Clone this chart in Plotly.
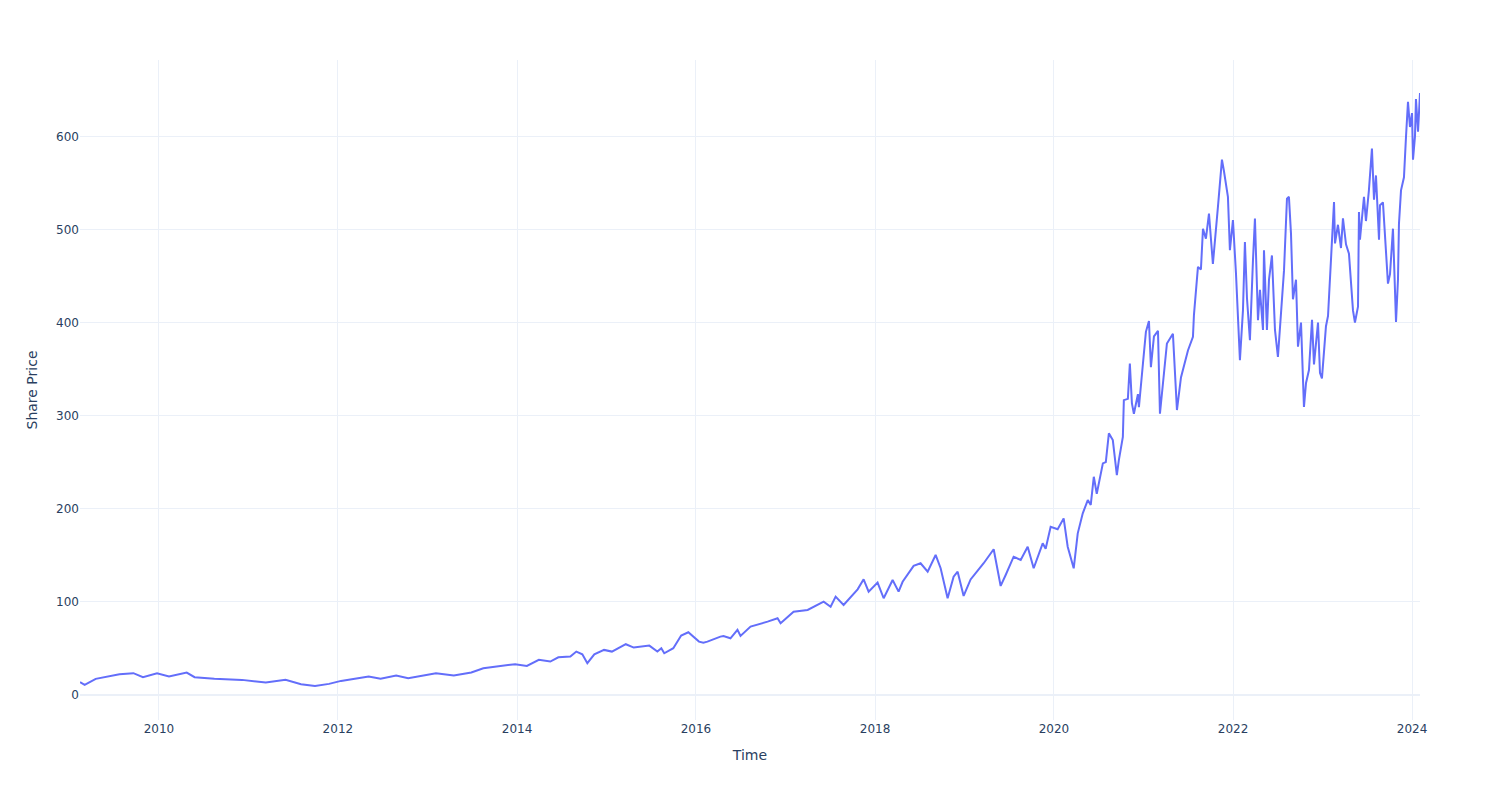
import pandas as pd
import plotly.graph_objects as go

# Time as decimal years, share price
years = [
    2009.117, 2009.169, 2009.293, 2009.426, 2009.558, 2009.714, 2009.821, 2009.978,
    2010.112, 2010.310, 2010.398, 2010.619, 2010.928, 2011.194, 2011.415, 2011.588,
    2011.744, 2011.901, 2012.035, 2012.343, 2012.476, 2012.650, 2012.784, 2013.094,
    2013.293, 2013.489, 2013.623, 2013.979, 2014.110, 2014.244, 2014.372, 2014.462,
    2014.596, 2014.663, 2014.730, 2014.786, 2014.864, 2014.973, 2015.061, 2015.216,
    2015.305, 2015.479, 2015.569, 2015.613, 2015.646, 2015.747, 2015.835, 2015.915,
    2015.967, 2016.034, 2016.083, 2016.128,
    2016.273, 2016.307, 2016.385, 2016.463, 2016.497, 2016.609, 2016.799, 2016.910,
    2016.944, 2017.089, 2017.246, 2017.425, 2017.503, 2017.559, 2017.648, 2017.805,
    2017.872, 2017.928, 2018.028, 2018.096, 2018.196, 2018.263, 2018.308, 2018.431,
    2018.509, 2018.588, 2018.677, 2018.733, 2018.811, 2018.878, 2018.923, 2018.990,
    2019.068, 2019.214, 2019.326, 2019.404, 2019.460, 2019.549, 2019.628, 2019.706,
    2019.773, 2019.874, 2019.907, 2019.963, 2020.041, 2020.108, 2020.153, 2020.220,
    2020.265, 2020.321, 2020.377, 2020.410, 2020.444, 2020.477, 2020.545, 2020.578,
    2020.612, 2020.656, 2020.701, 2020.723, 2020.768, 2020.779, 2020.824, 2020.846,
    2020.869, 2020.891, 2020.936, 2020.947, 2020.992, 2021.025, 2021.059, 2021.081,
    2021.115, 2021.160, 2021.182, 2021.227, 2021.260, 2021.327, 2021.372, 2021.417,
    2021.495, 2021.551, 2021.562, 2021.607, 2021.640, 2021.663, 2021.696, 2021.730,
    2021.774, 2021.830, 2021.875, 2021.897, 2021.942, 2021.964, 2021.998, 2022.032,
    2022.076, 2022.110, 2022.132, 2022.155, 2022.188, 2022.222, 2022.244, 2022.278,
    2022.300, 2022.334, 2022.345, 2022.378, 2022.401, 2022.434, 2022.468, 2022.501,
    2022.535, 2022.569, 2022.602, 2022.624, 2022.647, 2022.669, 2022.703, 2022.725,
    2022.759, 2022.792, 2022.815, 2022.848, 2022.882, 2022.904, 2022.949, 2022.971,
    2022.993, 2023.038, 2023.061, 2023.094, 2023.128, 2023.139, 2023.172, 2023.206,
    2023.228, 2023.262, 2023.295, 2023.340, 2023.362, 2023.396, 2023.407, 2023.418,
    2023.463, 2023.485, 2023.518, 2023.552, 2023.575, 2023.597, 2023.631, 2023.642,
    2023.675, 2023.731, 2023.754, 2023.787, 2023.821, 2023.843, 2023.854, 2023.877,
    2023.910, 2023.933, 2023.955, 2023.977, 2024.000, 2024.011, 2024.033, 2024.044,
    2024.067, 2024.089,
]

share_price = [
    13.6, 10.7, 17.2, 19.7, 22.2, 23.3, 19.0, 23.3,
    19.7, 24.0, 19.0, 17.2, 16.1, 13.2, 16.1, 11.5,
    9.6, 11.8, 15.0, 19.7, 17.2, 20.8, 17.9, 23.3,
    20.8, 24.0, 28.6, 33.0, 31.1, 37.6, 35.8, 40.4,
    41.1, 46.5, 43.6, 34.0, 43.6, 48.3, 46.5, 54.4,
    50.8, 52.9, 46.5, 50.1, 44.7, 50.1, 63.7, 67.3,
    62.6, 57.2, 56.1, 57.2,
    62.6, 63.3, 60.8, 69.8, 63.3, 73.3, 78.7, 82.3,
    77.0, 89.4, 91.2, 100.1, 94.7, 105.5, 96.6, 113.4,
    124.1, 110.9, 120.6, 103.8, 123.4, 110.9, 121.5, 138.5,
    141.4, 132.3, 150.3, 136.0, 103.8, 127.0, 132.3, 106.3,
    124.0, 141.4, 156.4, 117.0, 128.8, 148.4, 145.0, 159.2,
    136.0, 162.8, 157.0, 180.6, 178.0, 189.6, 159.2, 136.0,
    173.5, 195.0, 209.3, 204.0, 234.3, 216.0, 248.7, 250.0,
    280.9, 273.7, 236.0, 252.0, 277.2, 316.6, 318.0, 356.0,
    313.0, 302.0, 323.0, 309.0, 356.0, 390.0, 401.7, 352.0,
    385.0, 391.0, 302.0, 349.0, 377.5, 388.0, 306.0, 341.0,
    370.0, 384.6, 408.0, 459.7, 457.0, 500.8, 490.0, 517.0,
    463.0, 524.0, 575.0, 563.0, 535.0, 477.6, 510.0, 452.6,
    359.6, 413.0, 486.5, 426.0, 381.0, 467.0, 511.6, 402.5,
    435.0, 392.0, 477.6, 392.0, 446.0, 472.0, 392.0, 363.0,
    414.0, 456.0, 533.0, 535.0, 495.5, 425.0, 446.0, 374.0,
    400.0, 309.4, 335.0, 349.0, 403.0, 355.0, 400.0, 346.0,
    340.0, 396.0, 407.0, 474.0, 529.5, 485.0, 505.0, 480.0,
    512.0, 484.0, 474.0, 413.0, 400.0, 417.0, 518.7, 489.0,
    535.0, 509.0, 542.0, 586.8, 532.0, 558.0, 489.0, 526.0,
    529.0, 441.8, 452.0, 500.8, 400.7, 446.0, 506.0, 542.0,
    556.0, 600.0, 637.0, 610.0, 625.0, 575.0, 600.0, 640.0,
    605.0, 646.5,
]


def to_date(y):
    yr = int(y)
    start = pd.Timestamp(year=yr, month=1, day=1)
    end = pd.Timestamp(year=yr + 1, month=1, day=1)
    return start + (end - start) * (y - yr)


dates = [to_date(y) for y in years]

fig = go.Figure(
    go.Scatter(
        x=dates,
        y=share_price,
        mode="lines",
        line=dict(color="#636efa", width=2),
        name="Share Price",
    )
)

fig.update_layout(
    template="plotly_white",
    width=1500,
    height=800,
    margin=dict(l=80, r=80, t=60, b=80),
    font=dict(family="DejaVu Sans"),
    showlegend=False,
    xaxis=dict(title=dict(text="Time"), range=[dates[0], dates[-1]]),
    yaxis=dict(title=dict(text="Share Price"), range=[-27, 682]),
)

fig.write_html("out.html")
